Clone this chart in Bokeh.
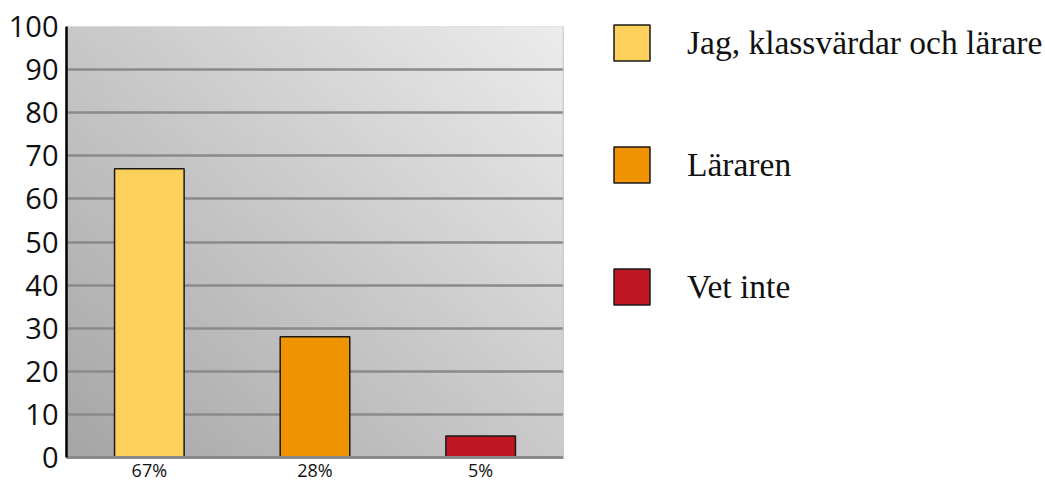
import numpy as np
from bokeh.plotting import figure
from bokeh.models import FactorRange, Legend, LegendItem, ColumnDataSource, Range1d, Span
from bokeh.embed import file_html
from bokeh.resources import INLINE

# data
categories = ["Jag, klassvärdar och lärare", "Läraren", "Vet inte"]
tick_labels = ["67%", "28%", "5%"]
values = [67, 28, 5]
colors = ["#FCD05A", "#F09300", "#BE1622"]

p = figure(width=1029, height=476, x_range=FactorRange(*tick_labels, range_padding=0),
           y_range=Range1d(0, 100), output_backend="svg", toolbar_location=None,
           min_border_left=66, min_border_right=464, min_border_top=26, min_border_bottom=19)
p.frame_width = 497
p.frame_height = 431
p.outline_line_color = None
p.background_fill_color = "#c8c8c8"

# diagonal gradient background
n = 64
u = np.linspace(0, 1, n)[None, :]
v = np.linspace(0, 1, n)[:, None]
g = (166 + 36 * u + 34 * v).astype(np.uint32)
img = (255 << 24) | (g << 16) | (g << 8) | g
p.image_rgba(image=[img.astype(np.uint32)], x=0, y=0, dw=3, dh=100, level="image")

# grid
p.xgrid.grid_line_color = None
p.ygrid.grid_line_color = "#8a8a8a"
p.ygrid.grid_line_width = 2.5
p.ygrid.level = "underlay"
p.ygrid.ticker = list(range(0, 101, 10))

p.add_layout(Span(location=3, dimension="height", line_color="#bdbdbd", line_width=1.5))

src = ColumnDataSource(dict(x=tick_labels, top=values, color=colors, label=categories))
r = p.vbar(x="x", top="top", width=0.42, bottom=0, fill_color="color",
           line_color="#1a1a1a", line_width=1.5, source=src)

# axes
p.yaxis.ticker = list(range(0, 101, 10))
p.yaxis.major_label_text_font = "Open Sans"
p.yaxis.major_label_text_font_size = "29px"
p.yaxis.major_label_text_color = "#111111"
p.yaxis.major_tick_line_color = None
p.yaxis.minor_tick_line_color = None
p.yaxis.axis_line_color = "black"
p.yaxis.axis_line_width = 2.5
p.yaxis.major_label_standoff = 2

p.xaxis.major_label_text_font = "Open Sans"
p.xaxis.major_label_text_font_size = "18px"
p.xaxis.major_label_text_color = "#111111"
p.xaxis.major_tick_line_color = None
p.xaxis.axis_line_color = "#8a8a8a"
p.xaxis.axis_line_width = 3
p.xaxis.major_label_standoff = -6

items = [LegendItem(label=categories[i], renderers=[r], index=i) for i in range(3)]
legend = Legend(items=items, location=(46, 148), orientation="vertical",
                glyph_width=45, glyph_height=45, label_standoff=33, spacing=77,
                padding=0, margin=0, border_line_color=None, background_fill_alpha=0,
                label_text_font="Liberation Serif", label_text_font_size="33.5px",
                label_text_color="#111111", label_height=45)
p.add_layout(legend, "right")

open("out.html", "w").write(file_html(p, INLINE))
